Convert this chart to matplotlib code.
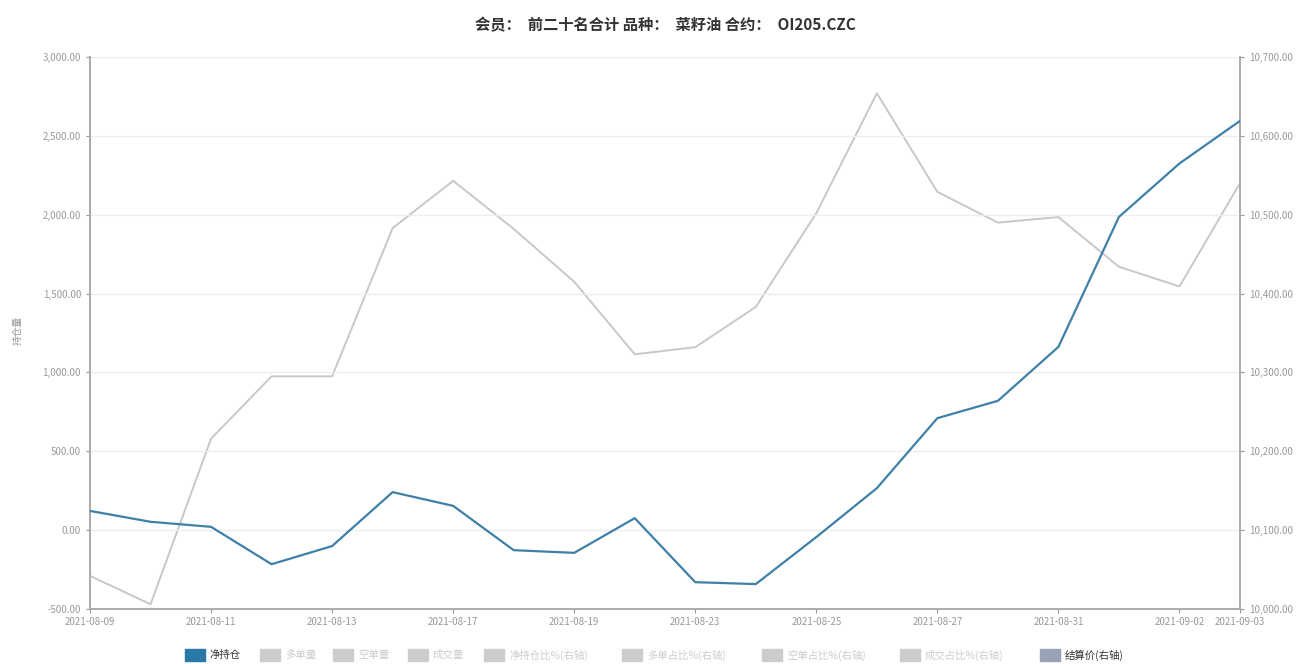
import matplotlib
matplotlib.use("Agg")
import matplotlib.pyplot as plt
from matplotlib.patches import Rectangle
from matplotlib.ticker import FuncFormatter, MultipleLocator

plt.rcParams['font.family'] = ['Noto Sans CJK SC', 'DejaVu Sans']

dates = ["2021-08-09", "2021-08-10", "2021-08-11", "2021-08-12", "2021-08-13",
         "2021-08-16", "2021-08-17", "2021-08-18", "2021-08-19", "2021-08-20",
         "2021-08-23", "2021-08-24", "2021-08-25", "2021-08-26", "2021-08-27",
         "2021-08-30", "2021-08-31", "2021-09-01", "2021-09-02", "2021-09-03"]
net_position = [122, 53, 21, -216, -101, 241, 154, -127, -144, 76,
                -330, -342, -44, 266, 710, 820, 1162, 1986, 2325, 2595]
settle_price = [10042, 10006, 10216, 10295, 10295, 10483, 10543, 10482, 10415, 10323,
                10332, 10383, 10502, 10654, 10529, 10490, 10497, 10434, 10409, 10540]
tick_idx = [0, 2, 4, 6, 8, 10, 12, 14, 16, 18, 19]
legend_labels = ["净持仓", "多单量", "空单量", "成交量", "净持仓比%(右轴)",
                 "多单占比%(右轴)", "空单占比%(右轴)", "成交占比%(右轴)", "结算价(右轴)"]
title = "会员：  前二十名合计 品种：  菜籽油 合约：  OI205.CZC"

W, H = 1312, 664
fig = plt.figure(figsize=(W / 100, H / 100), dpi=100)
L, R, T, B = 90, 1240, 57, 609
ax = fig.add_axes([L / W, 1 - B / H, (R - L) / W, (B - T) / H])
ax2 = ax.twinx()

x = list(range(len(dates)))
ax.plot(x, net_position, color="#3f80a8", lw=1.6, zorder=3)
ax2.plot(x, settle_price, color="#c8c8c8", lw=1.4, zorder=2)
ax.set_zorder(ax2.get_zorder() + 1)
ax.patch.set_visible(False)

ax.set_xlim(0, len(dates) - 1)
ax.set_ylim(-500, 3000)
ax2.set_ylim(10000, 10700)
ax.yaxis.set_major_locator(MultipleLocator(500))
ax2.yaxis.set_major_locator(MultipleLocator(100))
fmt = FuncFormatter(lambda v, p: f"{v:,.2f}")
ax.yaxis.set_major_formatter(fmt)
ax2.yaxis.set_major_formatter(fmt)
ax.set_xticks(tick_idx)
ax.set_xticklabels([dates[i] for i in tick_idx])

ax.grid(axis="y", color="#eeeeee", lw=1)
ax.set_axisbelow(True)

for a in (ax, ax2):
    a.spines["top"].set_visible(False)
    a.tick_params(labelsize=7, colors="#999999", length=3, width=0.8)
    for s in ("left", "right", "bottom"):
        a.spines[s].set_color("#aaaaaa")
        a.spines[s].set_linewidth(1.2)
for lab in ax.get_xticklabels() + ax.get_yticklabels() + ax2.get_yticklabels():
    lab.set_color("#999999")
ax.tick_params(axis="x", pad=3)

fig.text(18 / W, 1 - 330 / H, "持仓量", rotation=90, fontsize=7, color="#999999",
         ha="center", va="center")
fig.text(665 / W, 1 - 25 / H, title, fontsize=11, fontweight="bold", color="#333333",
         ha="center", va="center")

# legend
sw_x = [185, 260, 333, 408, 484, 622, 762, 900, 1040]
sw_colors = ["#2878a8"] + ["#cccccc"] * 7 + ["#9aa3b5"]
txt_colors = ["#333333"] + ["#cccccc"] * 7 + ["#333333"]
ly = 655
for xs, lab, c, tc in zip(sw_x, legend_labels, sw_colors, txt_colors):
    fig.patches.append(Rectangle((xs / W, 1 - (ly + 6) / H), 20 / W, 12 / H,
                                 transform=fig.transFigure, color=c, figure=fig))
    fig.text((xs + 25) / W, 1 - ly / H, lab, fontsize=7.5, color=tc, ha="left", va="center")

fig.savefig("out.png", dpi=100, facecolor="white")
